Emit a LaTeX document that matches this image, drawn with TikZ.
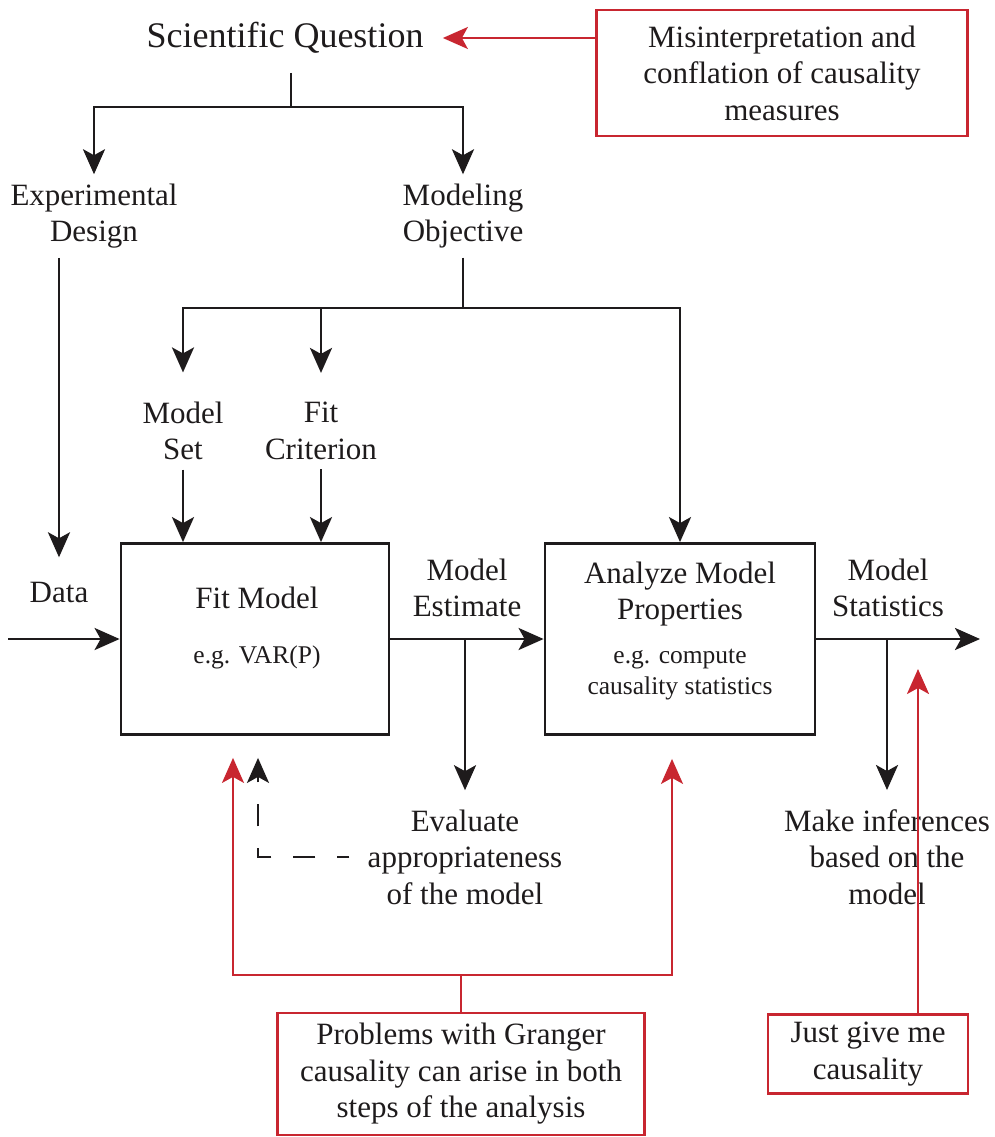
\documentclass[tikz,border=0pt]{standalone}
\usepackage{fontspec}
\setmainfont{Liberation Serif}
\usetikzlibrary{arrows.meta,calc}
\definecolor{inkgray}{RGB}{30,27,28}
\definecolor{flagred}{RGB}{200,38,48}
\newcommand{\txtbig}{\fontsize{36}{42}\selectfont}
\newcommand{\txtmain}{\fontsize{31}{36.5}\selectfont}
\newcommand{\txtsmall}{\fontsize{25.5}{31}\selectfont}

\begin{document}
\begin{tikzpicture}[x=1pt,y=-1pt,color=inkgray,line width=2.8pt,
>={Stealth[length=25pt,width=22pt,inset=6pt]},
lbl/.style={font=\txtmain,align=center,inner sep=8pt},
procbox/.style={draw,minimum width=268pt,minimum height=191pt},
flagbox/.style={draw=flagred,line width=2.4pt,font=\txtmain,align=center},
flag/.style={draw=flagred,line width=2.2pt}]
\useasboundingbox (0,0) rectangle (995,1137);
\node[lbl,font=\txtbig,inner sep=18pt] (question) at (285,38) {Scientific Question};
\node[flagbox,minimum width=371pt,minimum height=126pt] (misread) at (782,73) {Misinterpretation and\\conflation of causality\\measures};
\node[lbl] (design) at (94,216) {Experimental\\Design};
\node[lbl] (objective) at (463,216) {Modeling\\Objective};
\node[lbl] (modelset) at (183,431) {Model\\Set};
\node[lbl] (criterion) at (321,431) {Fit\\Criterion};
\node[lbl] (data) at (59,592) {Data};
\node[procbox] (fit) at (255,639) {};
\node[procbox,minimum width=270pt] (analyze) at (680,639) {};
\node[lbl] (fittitle) at (257,598) {Fit Model};
\node[lbl,font=\txtsmall] (fitex) at (257,657) {e.g. VAR(P)};
\node[lbl] (anatitle) at (680,594) {Analyze Model\\Properties};
\node[lbl,font=\txtsmall] (anaex) at (680,675) {e.g. compute\\causality statistics};
\node[lbl] (estimate) at (467,588) {Model\\Estimate};
\node[lbl] (stats) at (888,588) {Model\\Statistics};
\node[lbl] (evaluate) at (465,857) {Evaluate\\appropriateness\\of the model};
\node[lbl] (infer) at (887,857) {Make inferences\\based on the\\model};
\node[flagbox,minimum width=367pt,minimum height=122pt] (granger) at (461,1074) {Problems with Granger\\causality can arise in both\\steps of the analysis};
\node[flagbox,minimum width=200pt,minimum height=79pt] (justgive) at (868,1054) {Just give me\\causality};
% question splits into design and objective
\coordinate (qsplit) at (291,107);
\draw (question.south -| qsplit) -- (qsplit);
\draw[->] (qsplit) -| (design.north);
\draw[->] (qsplit) -| (objective.north);
\draw[->,shorten >=15pt] (design.south -| data.north) -- (data.north);
\coordinate (objsplit) at (463,308);
\draw (objective.south) -- (objsplit);
\draw[->,shorten >=20pt] (objsplit) -| (modelset.north);
\draw[->,shorten >=20pt] (objsplit) -| (criterion.north);
\draw[->] (objsplit) -| (analyze.north);
\draw[->] (modelset.south) -- (modelset.south |- fit.north);
\draw[->] (criterion.south) -- (criterion.south |- fit.north);
% main chain
\coordinate (datain) at (8,639);
\coordinate (statsout) at (980,639);
\draw[->] (datain) -- (fit.west);
\draw[->] (fit) -- (analyze);
\draw[->] (analyze) -- (statsout);
\coordinate (estsplit) at (465,639);
\draw[->,shorten >=10pt] (estsplit) -- (evaluate.north);
\coordinate (statsplit) at (887,639);
\draw[->,shorten >=10pt] (statsplit) -- (infer.north);
\draw[->,line width=2.4pt,dash pattern=on 22pt off 22pt,dash phase=10pt,shorten <=9pt,shorten >=22pt]
  (evaluate.west) -| ([xshift=3pt]fit.south);
% red remarks
\draw[flag,->] (misread.west |- question.east) -- (question.east);
\coordinate (gsplit) at (461,975);
\draw[flag] (granger.north) -- (gsplit);
\draw[flag,->,shorten >=22pt] (gsplit) -| ([xshift=-22pt]fit.south);
\draw[flag,->,shorten >=23pt] (gsplit) -| ([xshift=-8pt]analyze.south);
\draw[flag,->,shorten >=30pt] ([xshift=50pt]justgive.north) -- ([xshift=50pt]justgive.north |- statsout);
\end{tikzpicture}
\end{document}
